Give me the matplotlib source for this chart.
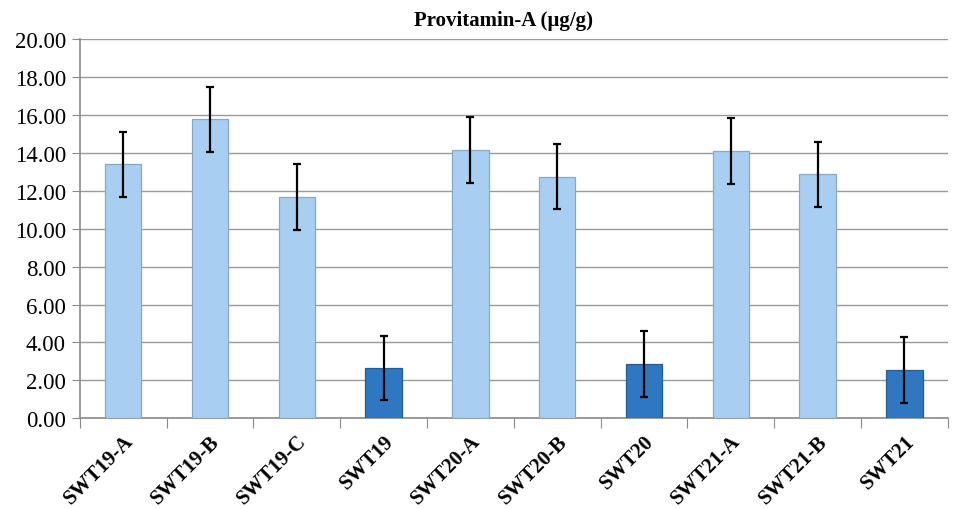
import matplotlib

matplotlib.use("Agg")
import matplotlib.pyplot as plt  # noqa: E402
import numpy as np  # noqa: E402

plt.rcParams["font.family"] = ["Liberation Serif", "DejaVu Serif"]

categories = ["SWT19-A", "SWT19-B", "SWT19-C", "SWT19", "SWT20-A",
              "SWT20-B", "SWT20", "SWT21-A", "SWT21-B", "SWT21"]
values = [13.40, 15.78, 11.66, 2.64, 14.14, 12.75, 2.85, 14.10, 12.88, 2.53]
errors = [1.70, 1.72, 1.74, 1.68, 1.74, 1.72, 1.74, 1.76, 1.72, 1.74]
is_parent = [False, False, False, True, False, False, True, False, False, True]

_LIGHT = "#a8cff2"
_DARK = "#2f77c0"

fig = plt.figure(figsize=(9.74, 5.10), dpi=100)
ax = fig.add_axes((0.082, 0.178, 0.891, 0.743))

x = np.arange(len(categories))
colors = [_DARK if p else _LIGHT for p in is_parent]
edges = ["#235d96" if p else "#86a9c8" for p in is_parent]
ax.bar(x, values, width=0.42, color=colors, edgecolor=edges, linewidth=0.9, zorder=3)
ax.errorbar(x, values, yerr=errors, fmt="none", ecolor="black",
            elinewidth=1.6, capsize=3, capthick=1.6, zorder=4)

ax.set_xlim(-0.5, len(categories) - 0.5)
ax.set_ylim(0, 20)
ax.set_yticks(np.arange(0, 20.01, 2))
ax.set_yticklabels([f"{v:.2f}" for v in np.arange(0, 20.01, 2)], fontsize=16.5)
ax.yaxis.grid(True, color="#9a9a9a", linewidth=1.0, zorder=0)
ax.set_axisbelow(True)

# 카테고리 경계에 눈금, 라벨은 중앙에
ax.set_xticks(np.arange(-0.5, len(categories), 1.0))
ax.set_xticklabels([])
ax.set_xticks(x, minor=True)
ax.set_xticklabels(categories, minor=True, rotation=45, ha="right",
                   rotation_mode="anchor", fontsize=15, fontweight="bold")
ax.tick_params(axis="x", which="minor", length=0, pad=9)
ax.tick_params(axis="x", which="major", length=7, color="#8a8a8a", direction="out")
ax.tick_params(axis="y", length=6, color="#8a8a8a", direction="out", pad=4)

for side in ("top", "right"):
    ax.spines[side].set_visible(False)
ax.spines["left"].set_color("#8a8a8a")
ax.spines["bottom"].set_color("#8a8a8a")
ax.spines["left"].set_linewidth(1.2)
ax.spines["bottom"].set_linewidth(1.2)

fig.text(0.517, 0.958, "Provitamin-A (µg/g)", ha="center", va="center",
         fontsize=15, fontweight="bold")

fig.savefig("out.png", facecolor="white")
plt.close(fig)
